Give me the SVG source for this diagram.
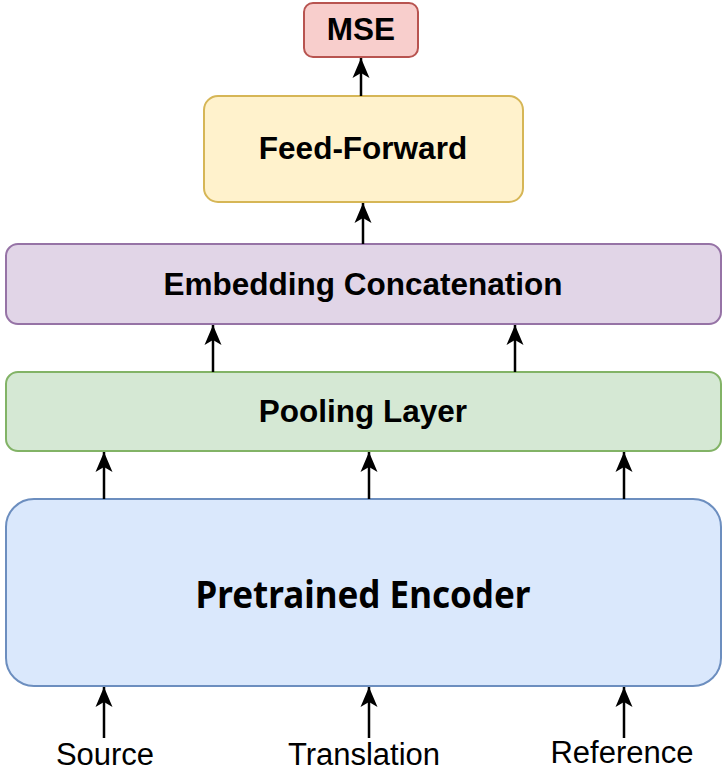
<svg xmlns="http://www.w3.org/2000/svg" width="724" height="772" viewBox="0 0 724 772">
<style>
.box{stroke-width:2}
.t{font-family:"Liberation Sans",Arial,sans-serif;font-weight:bold;font-size:31.5px;text-anchor:middle;fill:#000}
.lbl{font-family:"Liberation Sans",Arial,sans-serif;font-size:31px;text-anchor:middle;fill:#000}
.enc{font-family:"Noto Sans","Open Sans",sans-serif;font-weight:bold;font-size:38px;text-anchor:middle;fill:#000}
.c{stroke:#000;stroke-width:2.5;fill:none;marker-end:url(#ah)}
</style>
<defs>
<marker id="ah" markerUnits="userSpaceOnUse" markerWidth="24" markerHeight="24" viewBox="-22 -10 24 20" refX="0" refY="0" orient="auto">
<path d="M0,0 L-20,-8.5 L-15,0 L-20,8.5 Z" fill="#000"/>
</marker>
</defs>
<rect width="724" height="772" fill="#fff"/>
<g id="mse">
<rect class="box" x="304" y="3" width="114" height="54" rx="9" fill="#f8cecc" stroke="#b85450"/>
<text class="t" x="361" y="40">MSE</text>
</g>
<g id="feed-forward">
<rect class="box" x="204" y="96" width="319" height="106" rx="14" fill="#fff2cc" stroke="#d6b656"/>
<text class="t" x="363" y="159">Feed-Forward</text>
</g>
<g id="embedding-concatenation">
<rect class="box" x="6" y="244" width="715" height="80" rx="12" fill="#e1d5e7" stroke="#9673a6"/>
<text class="t" x="363" y="295">Embedding Concatenation</text>
</g>
<g id="pooling-layer">
<rect class="box" x="6" y="372" width="715" height="79" rx="12" fill="#d5e8d4" stroke="#82b366"/>
<text class="t" x="363" y="422">Pooling Layer</text>
</g>
<g id="pretrained-encoder">
<rect class="box" x="6" y="499" width="715" height="187" rx="28" fill="#dae8fc" stroke="#6c8ebf"/>
<text class="enc" x="363" y="608" textLength="335" lengthAdjust="spacingAndGlyphs">Pretrained Encoder</text>
</g>
<g id="source"><text class="lbl" x="105" y="765">Source</text></g>
<g id="translation"><text class="lbl" x="364" y="765">Translation</text></g>
<g id="reference"><text class="lbl" x="622" y="763">Reference</text></g>
<g id="connectors">
<line class="c" x1="361" y1="96" x2="361" y2="58"/>
<line class="c" x1="363" y1="244" x2="363" y2="203"/>
<line class="c" x1="213" y1="372" x2="213" y2="325"/>
<line class="c" x1="515" y1="372" x2="515" y2="325"/>
<line class="c" x1="104" y1="499" x2="104" y2="452"/>
<line class="c" x1="369" y1="499" x2="369" y2="452"/>
<line class="c" x1="624" y1="499" x2="624" y2="452"/>
<line class="c" x1="104" y1="738" x2="104" y2="687"/>
<line class="c" x1="369" y1="738" x2="369" y2="687"/>
<line class="c" x1="624" y1="738" x2="624" y2="687"/>
</g>
</svg>
